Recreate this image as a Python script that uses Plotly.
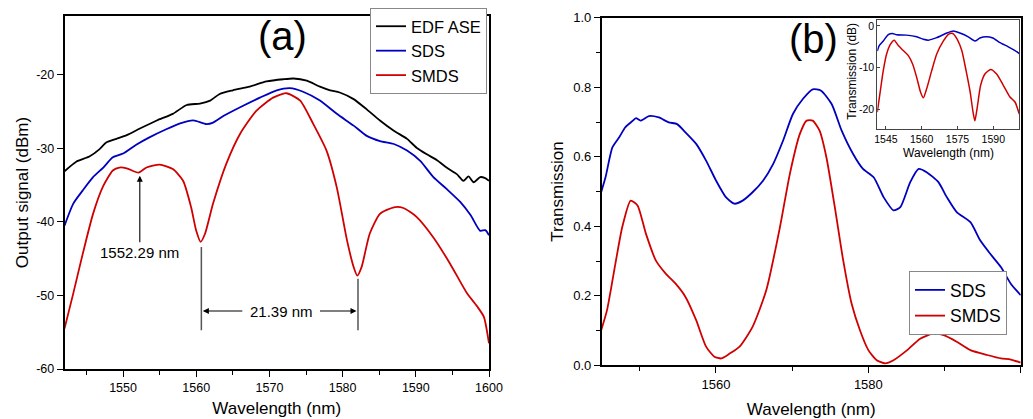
import plotly.graph_objects as go

# ---- panel (a): output signal (dBm) ----
wl_ase = [1542, 1543.6, 1545.4, 1546.8, 1547.7, 1549.1, 1550.5, 1552.3, 1554.6, 1556.8,
          1558.7, 1560.5, 1561.9, 1563.2, 1565, 1567.3, 1569.6, 1571.9, 1573.3, 1575.1,
          1576.9, 1578.3, 1579.6, 1581.5, 1583.3, 1585.1, 1587, 1588.8, 1590.1, 1591.5,
          1592.9, 1594.2, 1595.6, 1596.5, 1597.2, 1597.9, 1598.8, 1599.4, 1600]
ase_dbm = [-33.1, -31.8, -31.1, -30.1, -29.2, -28.7, -28.2, -27.3, -26.2, -25.3,
           -24.1, -23.9, -23.5, -22.6, -22.1, -21.6, -20.9, -20.6, -20.5, -20.8,
           -21.6, -22.1, -22.4, -23.3, -24.7, -26.2, -27.6, -28.7, -29.9, -30.8,
           -31.6, -32.6, -33.5, -34.4, -33.8, -34.6, -33.9, -34.0, -34.4]

wl_sds_a = [1542, 1543.2, 1544.5, 1545.9, 1547.3, 1548.6, 1550, 1551.8, 1553.6, 1555.9,
            1557.8, 1559.6, 1561.4, 1562.3, 1563.7, 1566, 1568.7, 1571, 1572.8, 1574.6,
            1576.9, 1579.2, 1581.5, 1583.3, 1585.1, 1587, 1588.8, 1590.6, 1592.4, 1594.2,
            1596.1, 1597.5, 1598.8, 1599.5, 1600]
sds_dbm = [-40.5, -37.5, -35.7, -33.9, -32.6, -31.2, -30.7, -29.5, -28.5, -27.4,
           -26.6, -26.2, -26.7, -26.5, -25.6, -24.4, -23.1, -22.1, -21.8, -22.3,
           -23.5, -25.3, -26.9, -28.3, -29.0, -29.4, -30.3, -31.7, -33.9, -35.5,
           -37.3, -39.1, -41.2, -41.1, -41.8]

wl_smds_a = [1542, 1543.2, 1544.5, 1545.9, 1547.3, 1548.6, 1549.5, 1550.5, 1552.1, 1553.2,
             1555, 1556.8, 1558.2, 1559.3, 1560, 1560.6, 1561.2, 1562.3, 1564.1, 1566,
             1568.2, 1570.5, 1572.3, 1574.2, 1576, 1577.8, 1579.2, 1580.6, 1581.5, 1582,
             1582.6, 1583.7, 1585.1, 1587, 1588.3, 1590.1, 1592.4, 1594.7, 1597, 1598.4,
             1599.3, 1600]
smds_dbm = [-54.5, -49.7, -44.3, -38.9, -35.1, -33.0, -32.6, -32.7, -33.3, -32.6,
            -32.2, -32.8, -34.4, -38.0, -41.2, -42.7, -41.6, -37.5, -32.1, -28.0,
            -24.9, -23.1, -22.5, -23.5, -26.7, -30.3, -35.3, -42.5, -46.1, -47.3,
            -46.1, -41.6, -38.9, -38.0, -38.1, -39.3, -42.1, -45.7, -49.7, -51.5,
            -52.9, -56.5]

# ---- panel (b): transmission (linear) ----
wl_sds_b = [1544.8, 1545.5, 1546.4, 1547.3, 1548.1, 1549.0, 1549.5, 1550.1, 1551.2, 1552.5,
            1553.8, 1554.9, 1556.0, 1557.4, 1558.7, 1560, 1561.3, 1562.4, 1563.5, 1564.8,
            1566.2, 1567.5, 1568.8, 1570.1, 1571.4, 1572.7, 1573.8, 1575.2, 1576.5, 1578.0,
            1579.3, 1580.7, 1582, 1583.3, 1584.2, 1585.5, 1586.6, 1587.7, 1589.2, 1590.3,
            1591.6, 1593.4, 1594.7, 1596, 1597.4, 1598.7, 1600]
sds_t = [0.489, 0.541, 0.627, 0.656, 0.685, 0.702, 0.711, 0.704, 0.717, 0.713,
         0.699, 0.694, 0.670, 0.637, 0.589, 0.532, 0.484, 0.465, 0.474, 0.498,
         0.532, 0.579, 0.646, 0.723, 0.766, 0.794, 0.790, 0.751, 0.675, 0.608,
         0.565, 0.541, 0.484, 0.446, 0.455, 0.527, 0.565, 0.555, 0.527, 0.484,
         0.441, 0.412, 0.359, 0.321, 0.283, 0.235, 0.202]

wl_smds_b = [1544.8, 1545.7, 1546.8, 1547.7, 1548.8, 1549.7, 1550.8, 1552.1, 1553.4, 1554.7,
             1556.0, 1557.4, 1558.7, 1559.8, 1560.7, 1561.8, 1563.1, 1564.8, 1566.6, 1568.4,
             1569.7, 1571, 1571.9, 1572.7, 1573.6, 1574.5, 1575.6, 1576.7, 1577.8, 1578.9,
             1580, 1581.1, 1582.2, 1583.3, 1585.1, 1586.8, 1588.6, 1589.9, 1591.6, 1593.4,
             1595.6, 1597.4, 1598.7, 1600]
smds_t = [0.092, 0.159, 0.293, 0.398, 0.474, 0.460, 0.379, 0.302, 0.264, 0.235,
          0.197, 0.130, 0.054, 0.025, 0.020, 0.034, 0.054, 0.111, 0.216, 0.398,
          0.551, 0.665, 0.704, 0.704, 0.675, 0.598, 0.455, 0.302, 0.178, 0.101,
          0.044, 0.015, 0.006, 0.015, 0.044, 0.077, 0.092, 0.087, 0.068, 0.044,
          0.030, 0.020, 0.017, 0.008]

# ---- inset: transmission (dB) ----
wl_sds_in = [1541.4, 1542.2, 1543.9, 1546, 1547.7, 1549.5, 1553.7, 1557.9, 1560.7, 1562.8,
             1566.3, 1570.5, 1573.3, 1576, 1579.5, 1582.3, 1584.4, 1587, 1589.8, 1592.8,
             1596.3, 1599.1, 1600.9]
sds_db = [-6.0, -4.7, -3.6, -2.1, -1.8, -2.1, -2.2, -2.6, -3.2, -3.4,
          -2.8, -1.7, -1.2, -1.7, -2.6, -3.6, -2.9, -2.6, -2.9, -4.0,
          -5.0, -5.9, -6.6]

wl_smds_in = [1541.4, 1542.5, 1543.9, 1545.3, 1547, 1548.5, 1550.2, 1552.3, 1554.4, 1556.2,
              1557.9, 1559.5, 1560.7, 1562.1, 1564.2, 1566.3, 1569.1, 1571.2, 1573, 1574.9,
              1576.8, 1578.6, 1580.3, 1581.6, 1582.3, 1583.3, 1584.7, 1586.5, 1588.9, 1591.4,
              1594.2, 1597, 1599.1, 1600.9]
smds_db = [-20.6, -16.2, -10.7, -6.7, -4.3, -3.4, -4.7, -5.9, -7.1, -9.1,
           -12.3, -15.8, -17.2, -15.0, -10.7, -6.7, -3.6, -2.0, -1.8, -3.2,
           -5.9, -10.7, -15.8, -20.9, -22.7, -19.4, -14.2, -11.5, -10.4, -11.5,
           -14.2, -17.0, -18.2, -21.1]

a_yticks = [-60, -50, -40, -30, -20]
inset_xticks = [1545, 1560, 1575, 1590]
inset_yticks = [0, -10, -20]

BLACK = '#000000'
BLUE = '#0000c0'
RED = '#d00000'
FONT = 'Arial, Liberation Sans, sans-serif'

# the page body has an 8px margin, so the figure is drawn 8px right/down
W, H, OFF = 1025, 411, 8


def px(x):
    return (x - OFF) / W


def py(y):
    return 1 - (y - OFF) / H


fig = go.Figure()

line_kw = dict(width=1.8, shape='spline', smoothing=0.6)
fig.add_trace(go.Scatter(x=wl_ase, y=ase_dbm, name='EDF ASE', mode='lines',
                         line=dict(color=BLACK, **line_kw), xaxis='x', yaxis='y', legend='legend'))
fig.add_trace(go.Scatter(x=wl_sds_a, y=sds_dbm, name='SDS', mode='lines',
                         line=dict(color=BLUE, **line_kw), xaxis='x', yaxis='y', legend='legend'))
fig.add_trace(go.Scatter(x=wl_smds_a, y=smds_dbm, name='SMDS', mode='lines',
                         line=dict(color=RED, **line_kw), xaxis='x', yaxis='y', legend='legend'))

fig.add_trace(go.Scatter(x=wl_sds_b, y=sds_t, name='SDS', mode='lines',
                         line=dict(color=BLUE, **line_kw), xaxis='x2', yaxis='y2', legend='legend2'))
fig.add_trace(go.Scatter(x=wl_smds_b, y=smds_t, name='SMDS', mode='lines',
                         line=dict(color=RED, **line_kw), xaxis='x2', yaxis='y2', legend='legend2'))

fig.add_trace(go.Scatter(x=wl_sds_in, y=sds_db, mode='lines', showlegend=False,
                         line=dict(color=BLUE, width=1.5, shape='spline', smoothing=0.6),
                         xaxis='x3', yaxis='y3'))
fig.add_trace(go.Scatter(x=wl_smds_in, y=smds_db, mode='lines', showlegend=False,
                         line=dict(color=RED, width=1.5, shape='spline', smoothing=0.6),
                         xaxis='x3', yaxis='y3'))

axis_common = dict(showline=True, mirror=True, linecolor=BLACK, linewidth=1.5,
                   showgrid=False, zeroline=False, ticks='outside', ticklen=6,
                   tickcolor=BLACK, tickwidth=1.2, automargin=False)
inset_axis = dict(showline=True, mirror=True, linecolor='#444', linewidth=1.2,
                  showgrid=False, zeroline=False, ticks='inside', ticklen=3,
                  tickcolor='#444', tickfont=dict(size=10.5), automargin=False)

fig.update_layout(
    template='none',
    width=W, height=H,
    margin=dict(l=0, r=0, t=0, b=0),
    paper_bgcolor='white', plot_bgcolor='white',
    font=dict(family=FONT, color=BLACK),
    xaxis=dict(domain=[px(64.5), px(489)], range=[1542, 1600], anchor='y',
               tick0=1550, dtick=10, tickfont=dict(size=12.5),
               minor=dict(dtick=5, tick0=1545, ticks='outside', ticklen=4, tickcolor=BLACK),
               title=dict(text='Wavelength (nm)', font=dict(size=17), standoff=8),
               **axis_common),
    yaxis=dict(domain=[py(369), py(15)], range=[-60, -12], anchor='x',
               tickvals=a_yticks, ticktext=[str(v) for v in a_yticks],
               tickfont=dict(size=12.5),
               title=dict(text='Output signal (dBm)', font=dict(size=17), standoff=3),
               **axis_common),
    xaxis2=dict(domain=[px(601.7), px(1020.7)], range=[1545, 1600], anchor='y2',
                tick0=1560, dtick=20, tickfont=dict(size=13),
                minor=dict(dtick=10, tick0=1550, ticks='outside', ticklen=4, tickcolor=BLACK),
                title=dict(text='Wavelength (nm)', font=dict(size=17), standoff=14),
                **axis_common),
    yaxis2=dict(domain=[py(365.3), py(16.7)], range=[0, 1], anchor='x2',
                tick0=0, dtick=0.2, tickformat='.1f', tickfont=dict(size=13),
                minor=dict(dtick=0.1, ticks='outside', ticklen=4, tickcolor=BLACK),
                title=dict(text='Transmission', font=dict(size=17), standoff=5),
                **axis_common),
    xaxis3=dict(domain=[px(877.3), px(1019.3)], range=[1541.4, 1600.9], anchor='y3',
                tickvals=inset_xticks, **inset_axis),
    yaxis3=dict(domain=[py(128.5), py(19.3)], range=[-24.7, 1.35], anchor='x3',
                tickvals=inset_yticks, ticktext=[str(v) for v in inset_yticks],
                **inset_axis),
    legend=dict(x=px(370), y=py(7), xanchor='left', yanchor='top',
                bgcolor='white', bordercolor='#888', borderwidth=1,
                font=dict(size=16.5), tracegroupgap=0, traceorder='normal'),
    legend2=dict(x=px(909), y=py(271), xanchor='left', yanchor='top',
                 bgcolor='white', bordercolor='#888', borderwidth=1,
                 font=dict(size=17.5), tracegroupgap=0, traceorder='normal'),
)

# panel labels
fig.add_annotation(text='(a)', x=px(282), y=py(35), xref='paper', yref='paper',
                   xanchor='center', yanchor='middle', showarrow=False, font=dict(size=40))
fig.add_annotation(text='(b)', x=px(813), y=py(38), xref='paper', yref='paper',
                   xanchor='center', yanchor='middle', showarrow=False, font=dict(size=40))

# inset axis titles
fig.add_annotation(text='Wavelength (nm)', x=px(948), y=py(152), xref='paper', yref='paper',
                   xanchor='center', yanchor='middle', showarrow=False, font=dict(size=12))
fig.add_annotation(text='Transmission (dB)', x=px(852), y=py(71), xref='paper', yref='paper',
                   xanchor='center', yanchor='middle', textangle=-90, showarrow=False,
                   font=dict(size=12))

# dip marker and spacing annotation in (a)
fig.add_annotation(text='1552.29 nm', x=1552.29, y=-33.7, ax=1552.29, ay=-44.1,
                   xref='x', yref='y', axref='x', ayref='y', showarrow=True,
                   arrowhead=2, arrowsize=1.1, arrowwidth=1.1, arrowcolor=BLACK,
                   font=dict(size=15))
fig.add_shape(type='line', x0=1560.7, x1=1560.7, y0=-43.4, y1=-54.7, xref='x', yref='y',
              line=dict(color='#555', width=1.5))
fig.add_shape(type='line', x0=1582.1, x1=1582.1, y0=-47.7, y1=-54.7, xref='x', yref='y',
              line=dict(color='#555', width=1.5))
fig.add_annotation(text='21.39 nm', x=1571.6, y=-52.1, xref='x', yref='y',
                   showarrow=False, font=dict(size=15))
fig.add_annotation(text='', x=1560.9, y=-52.1, ax=1566.5, ay=-52.1,
                   xref='x', yref='y', axref='x', ayref='y', showarrow=True,
                   arrowhead=2, arrowsize=1.1, arrowwidth=1.1, arrowcolor=BLACK, standoff=0)
fig.add_annotation(text='', x=1581.9, y=-52.1, ax=1576.7, ay=-52.1,
                   xref='x', yref='y', axref='x', ayref='y', showarrow=True,
                   arrowhead=2, arrowsize=1.1, arrowwidth=1.1, arrowcolor=BLACK, standoff=0)

fig.write_html("out.html")
